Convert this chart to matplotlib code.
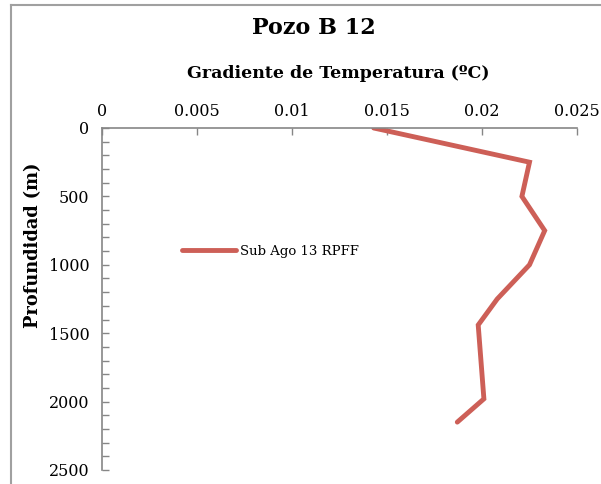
import matplotlib
matplotlib.use("Agg")
import matplotlib.pyplot as plt
from matplotlib.lines import Line2D
from matplotlib.ticker import MultipleLocator

# gradient profile, well B 12
gradiente = [0.0143, 0.0148, 0.0225, 0.0221, 0.0233, 0.0225, 0.0208, 0.0198, 0.0201, 0.0187]
profundidad = [0, 15, 250, 500, 750, 1000, 1250, 1440, 1980, 2150]
serie = "Sub Ago 13 RPFF"
x_ticks = [0, 0.005, 0.01, 0.015, 0.02, 0.025]
x_labels = ["0", "0.005", "0.01", "0.015", "0.02", "0.025"]
y_ticks = [0, 500, 1000, 1500, 2000, 2500]

plt.rcParams["font.family"] = ["DejaVu Serif"]
W, H = 601, 484
fig = plt.figure(figsize=(W / 100, H / 100), dpi=100)

ax = fig.add_axes([102 / W, 1 - 470 / H, 475 / W, 342 / H])
ax.plot(gradiente, profundidad, color="#CD5F57", lw=3.5, solid_capstyle="round",
        solid_joinstyle="miter", label=serie)

ax.set_xlim(0, 0.025)
ax.set_ylim(2500, 0)
ax.xaxis.tick_top()
ax.set_xticks(x_ticks)
ax.set_xticklabels(x_labels)
ax.set_yticks(y_ticks)
ax.yaxis.set_minor_locator(MultipleLocator(100))
ax.tick_params(axis="both", which="both", direction="in", colors="#868686",
               labelcolor="black", labelsize=11.5, length=5, width=1)
ax.tick_params(axis="x", pad=6)
ax.tick_params(axis="y", pad=9)
for s in ["right", "bottom"]:
    ax.spines[s].set_visible(False)
for s in ["top", "left"]:
    ax.spines[s].set_color("#868686")
    ax.spines[s].set_linewidth(1.2)

fig.text(314 / W, 1 - 28 / H, "Pozo B 12", ha="center", va="center",
         fontsize=16, fontweight="bold")
fig.text(338 / W, 1 - 73 / H, "Gradiente de Temperatura (ºC)", ha="center",
         va="center", fontsize=12.5, fontweight="bold")
fig.text(33 / W, 1 - 245 / H, "Profundidad (m)", ha="center", va="center",
         rotation=90, fontsize=12.8, fontweight="bold")

ax.legend(loc="center left", bbox_to_anchor=(177 / W, 1 - 251 / H),
          bbox_transform=fig.transFigure, frameon=False, fontsize=9.5,
          handlelength=4.1, handletextpad=0.3, borderaxespad=0)

# outer chart frame
frame = dict(color="#A0A0A0", lw=1.5, transform=fig.transFigure)
fig.add_artist(Line2D([11 / W, 11 / W], [0, 1 - 5 / H], **frame))
fig.add_artist(Line2D([11 / W, 1], [1 - 5 / H, 1 - 5 / H], **frame))

fig.savefig("out.png", dpi=100)
